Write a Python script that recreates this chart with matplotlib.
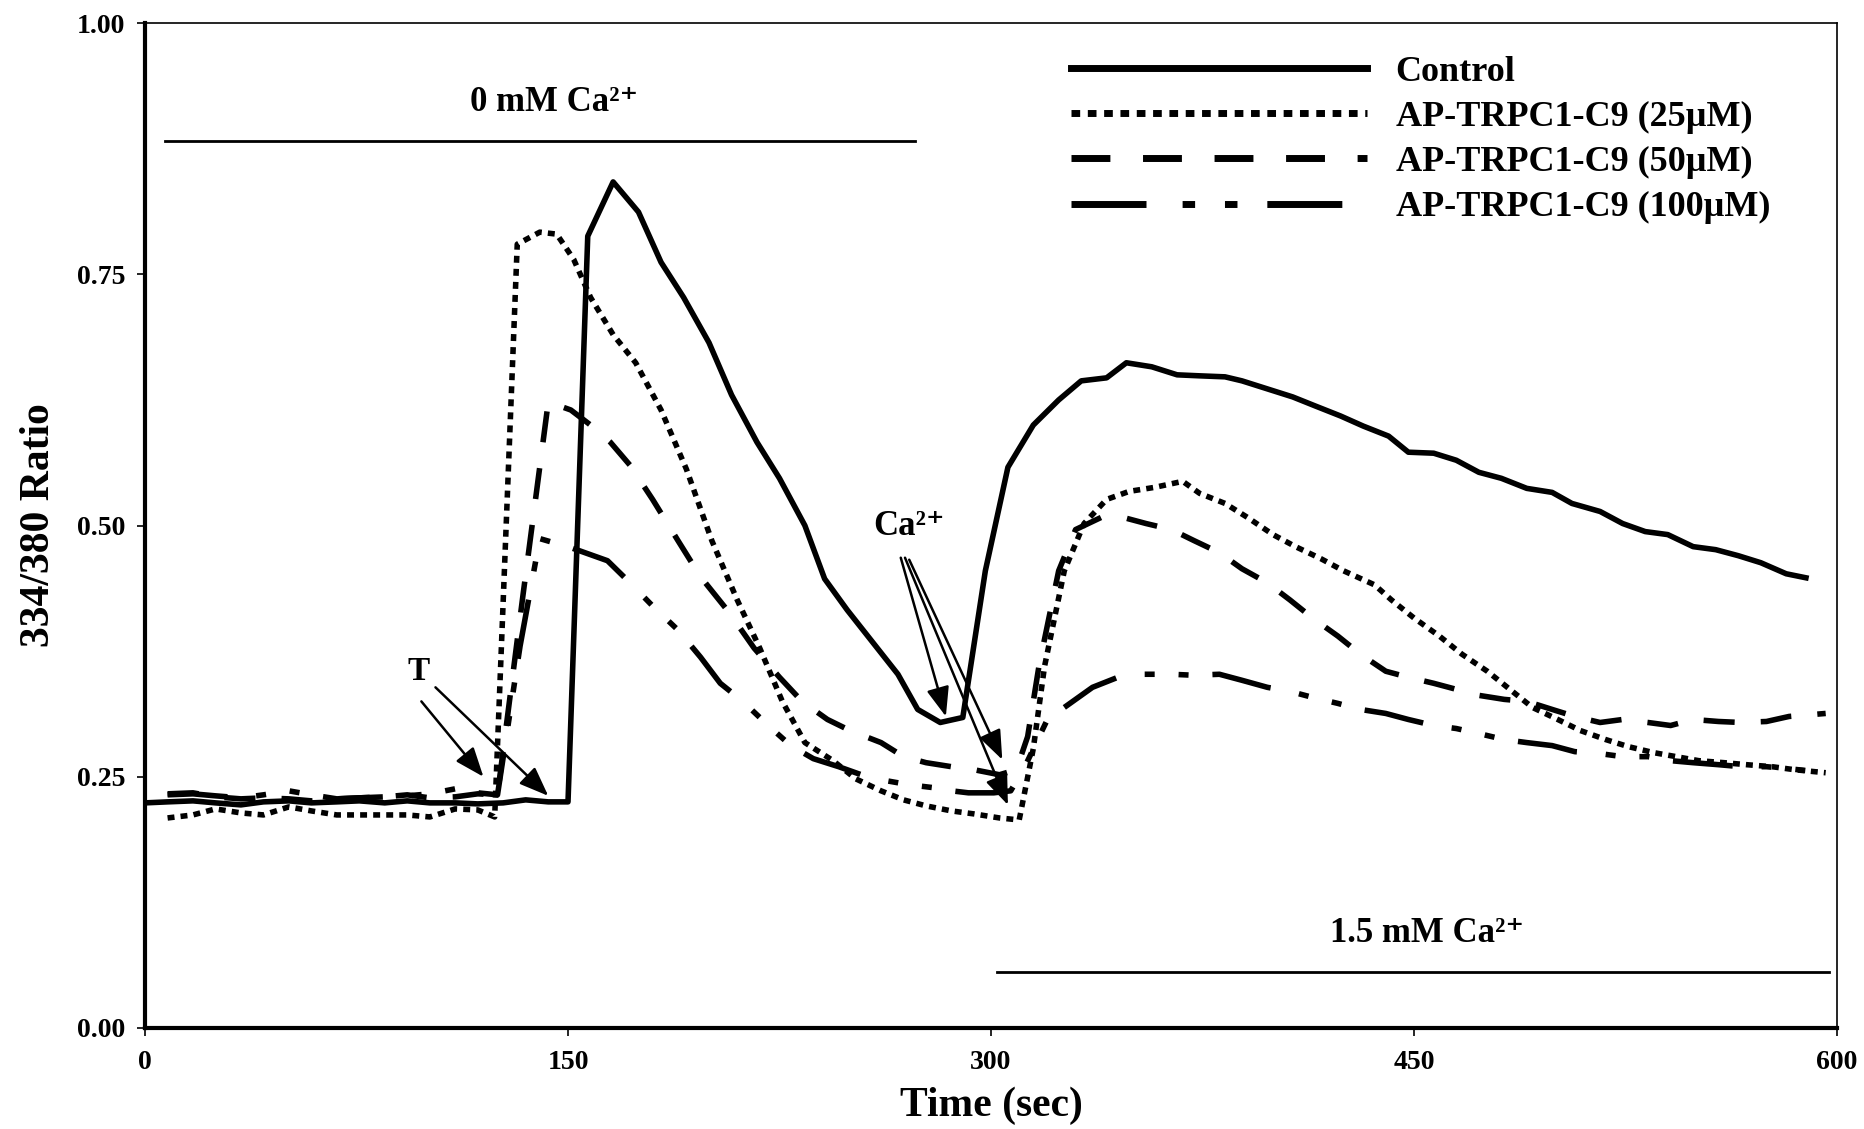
import matplotlib
matplotlib.use("Agg")
import matplotlib.pyplot as plt

plt.rcParams['font.family'] = ['Liberation Serif', 'DejaVu Serif']
plt.rcParams['font.weight'] = 'bold'

# Control
t_ctrl = [0, 8, 17, 25, 34, 42, 51, 59, 68, 76, 85, 93, 101, 110, 118, 127, 135, 143, 150,
          157, 166, 175, 183, 191, 200, 208, 217, 225, 234, 241, 249, 258, 267, 274, 282, 290,
          298, 306, 315, 324, 332, 341, 348, 357, 366, 374, 383, 389, 398, 407, 415, 424, 432,
          441, 448, 457, 465, 473, 481, 490, 499, 506, 516, 524, 532, 540, 549, 557, 565, 573,
          582, 589]
v_ctrl = [0.224, 0.225, 0.226, 0.224, 0.222, 0.225, 0.226, 0.224, 0.225, 0.226, 0.224, 0.226,
          0.224, 0.224, 0.223, 0.224, 0.227, 0.225, 0.225, 0.788, 0.842, 0.812, 0.762, 0.727,
          0.682, 0.630, 0.583, 0.547, 0.500, 0.447, 0.416, 0.384, 0.352, 0.317, 0.304, 0.309,
          0.455, 0.558, 0.600, 0.625, 0.644, 0.647, 0.662, 0.658, 0.650, 0.649, 0.648, 0.644,
          0.636, 0.628, 0.619, 0.609, 0.599, 0.589, 0.573, 0.572, 0.565, 0.553, 0.547, 0.537,
          0.533, 0.522, 0.514, 0.502, 0.494, 0.491, 0.479, 0.476, 0.470, 0.463, 0.452, 0.448]

# AP-TRPC1-C9 25uM
t_25 = [8, 17, 25, 34, 42, 51, 59, 68, 76, 85, 93, 101, 110, 118, 124, 132, 140, 146, 152, 158,
        166, 174, 183, 192, 201, 210, 218, 226, 234, 244, 252, 261, 269, 277, 286, 294, 303, 310,
        315, 319, 326, 333, 341, 349, 358, 368, 374, 383, 391, 400, 408, 417, 425, 436, 442, 450,
        459, 467, 476, 484, 492, 501, 509, 518, 526, 535, 543, 551, 560, 568, 577, 585, 596]
v_25 = [0.209, 0.212, 0.218, 0.214, 0.212, 0.220, 0.216, 0.212, 0.212, 0.212, 0.212, 0.210,
        0.218, 0.217, 0.210, 0.780, 0.792, 0.790, 0.765, 0.727, 0.690, 0.662, 0.615, 0.556,
        0.485, 0.426, 0.378, 0.325, 0.284, 0.266, 0.248, 0.236, 0.227, 0.221, 0.216, 0.213,
        0.209, 0.207, 0.278, 0.360, 0.455, 0.502, 0.526, 0.534, 0.538, 0.544, 0.532, 0.522,
        0.508, 0.491, 0.479, 0.467, 0.455, 0.441, 0.426, 0.408, 0.390, 0.372, 0.355, 0.337,
        0.319, 0.307, 0.296, 0.287, 0.280, 0.274, 0.270, 0.266, 0.264, 0.262, 0.260, 0.257, 0.254]

# AP-TRPC1-C9 50uM
t_50 = [8, 17, 25, 34, 42, 51, 59, 68, 76, 85, 93, 101, 110, 118, 125, 134, 143, 151, 158, 165,
        172, 180, 189, 197, 207, 216, 225, 233, 242, 250, 261, 269, 277, 286, 294, 303, 309, 313,
        317, 324, 330, 339, 347, 355, 364, 372, 381, 389, 398, 406, 414, 423, 431, 440, 448, 457,
        465, 473, 482, 490, 499, 507, 516, 524, 533, 541, 549, 558, 566, 575, 583, 596]
v_50 = [0.233, 0.234, 0.230, 0.228, 0.229, 0.228, 0.226, 0.228, 0.229, 0.230, 0.232, 0.229,
        0.230, 0.233, 0.232, 0.430, 0.623, 0.615, 0.600, 0.583, 0.560, 0.526, 0.485, 0.449,
        0.414, 0.378, 0.349, 0.325, 0.307, 0.296, 0.284, 0.270, 0.264, 0.260, 0.257, 0.252,
        0.257, 0.290, 0.360, 0.455, 0.496, 0.508, 0.508, 0.502, 0.496, 0.485, 0.473, 0.457,
        0.443, 0.426, 0.408, 0.390, 0.372, 0.355, 0.349, 0.343, 0.337, 0.331, 0.327, 0.325,
        0.317, 0.310, 0.304, 0.307, 0.304, 0.301, 0.307, 0.305, 0.304, 0.305, 0.310, 0.313]

# AP-TRPC1-C9 100uM
t_100 = [8, 17, 25, 34, 42, 51, 59, 68, 76, 85, 93, 101, 110, 118, 125, 133, 140, 151, 164, 172,
         180, 189, 197, 204, 212, 221, 229, 237, 246, 254, 263, 271, 280, 286, 292, 301, 307, 312,
         320, 328, 336, 345, 353, 364, 372, 381, 389, 398, 406, 414, 423, 431, 440, 448, 457, 465,
         473, 482, 490, 499, 507, 516, 524, 533, 541, 549, 558, 566, 575, 583, 596]
v_100 = [0.232, 0.233, 0.231, 0.229, 0.232, 0.236, 0.232, 0.228, 0.229, 0.230, 0.231, 0.233,
         0.238, 0.234, 0.232, 0.380, 0.487, 0.478, 0.465, 0.443, 0.420, 0.396, 0.369, 0.343,
         0.325, 0.301, 0.281, 0.268, 0.260, 0.252, 0.246, 0.242, 0.239, 0.236, 0.234, 0.234,
         0.236, 0.260, 0.307, 0.323, 0.339, 0.349, 0.352, 0.352, 0.351, 0.352, 0.346, 0.339,
         0.335, 0.329, 0.323, 0.317, 0.313, 0.307, 0.301, 0.298, 0.293, 0.287, 0.284, 0.281,
         0.275, 0.273, 0.270, 0.270, 0.266, 0.264, 0.262, 0.260, 0.260, 0.258, 0.254]

labels = ["Control", "AP-TRPC1-C9 (25\u00b5M)", "AP-TRPC1-C9 (50\u00b5M)", "AP-TRPC1-C9 (100\u00b5M)"]
x_ticks = [0, 150, 300, 450, 600]
y_ticks = [0.00, 0.25, 0.50, 0.75, 1.00]

CA = "Ca\u00b2\u207a"
# bath solution bars: (start, end, level, label)
bar_zero = (7, 273, 0.883, "0 mM " + CA)
bar_ca = (302, 597, 0.056, "1.5 mM " + CA)


def main():
    fig = plt.figure(figsize=(18.64, 11.29), dpi=100)
    ax = fig.add_axes([0.0778, 0.0895, 0.9077, 0.890])

    lw = 4
    ax.plot(t_ctrl, v_ctrl, color='black', lw=lw, linestyle='-', label=labels[0])
    ax.plot(t_25, v_25, color='black', lw=lw, linestyle=(0, (1.25, 1.1)),
            dash_capstyle='butt', label=labels[1])
    ax.plot(t_50, v_50, color='black', lw=lw, linestyle=(0, (5.6, 4.7)),
            dash_capstyle='butt', label=labels[2])
    ax.plot(t_100, v_100, color='black', lw=lw,
            linestyle=(0, (10.8, 5.2, 1.8, 4.3, 1.8, 4.3)),
            dash_capstyle='butt', label=labels[3])

    # bath bars
    for start, end, level, text in (bar_zero, bar_ca):
        ax.plot([start, end], [level, level], color='black', lw=2)
        ax.text((start + end) / 2 + 5, level + 0.038, text, fontsize=25,
                ha='center', va='center', fontweight='bold')

    # T (thapsigargin) arrows
    ax.text(97, 0.355, "T", fontsize=24, ha='center', va='center', fontweight='bold')
    arrow = dict(arrowstyle='-|>,head_length=0.9,head_width=0.35', lw=1.8,
                 color='black', mutation_scale=20, shrinkA=0, shrinkB=0)
    ax.annotate('', xy=(120, 0.250), xytext=(98, 0.325), arrowprops=arrow)
    ax.annotate('', xy=(143, 0.231), xytext=(103, 0.339), arrowprops=arrow)

    # Ca2+ addition arrows
    ax.text(271, 0.499, CA, fontsize=25, ha='center', va='center', fontweight='bold')
    ax.annotate('', xy=(284, 0.310), xytext=(268, 0.468), arrowprops=arrow)
    ax.annotate('', xy=(304, 0.267), xytext=(271, 0.466), arrowprops=arrow)
    ax.annotate('', xy=(306, 0.222), xytext=(269.5, 0.468), arrowprops=arrow)

    ax.set_xlim(0, 600)
    ax.set_ylim(0, 1)
    ax.set_xticks(x_ticks)
    ax.set_yticks(y_ticks)
    ax.set_yticklabels(["%.2f" % y for y in y_ticks])
    ax.tick_params(axis='both', direction='out', length=6, width=1.2, labelsize=20)
    ax.tick_params(axis='x', pad=10)
    ax.tick_params(axis='y', pad=8)
    for lab in ax.get_xticklabels() + ax.get_yticklabels():
        lab.set_fontweight('bold')

    ax.spines['left'].set_linewidth(3)
    ax.spines['bottom'].set_linewidth(3)
    ax.spines['top'].set_linewidth(1.2)
    ax.spines['right'].set_linewidth(1.2)

    ax.set_xlabel("Time (sec)", fontsize=30, fontweight='bold', labelpad=8)
    ax.set_ylabel("334/380 Ratio", fontsize=30, fontweight='bold', labelpad=14)

    leg = ax.legend(loc='upper left', bbox_to_anchor=(0.547, 0.968), frameon=False,
                    fontsize=26, handlelength=8.2, handletextpad=0.8, labelspacing=0.33,
                    borderpad=0, borderaxespad=0)
    for line in leg.get_lines():
        line.set_linewidth(5)

    fig.savefig("out.png", dpi=100)


if __name__ == "__main__":
    main()
